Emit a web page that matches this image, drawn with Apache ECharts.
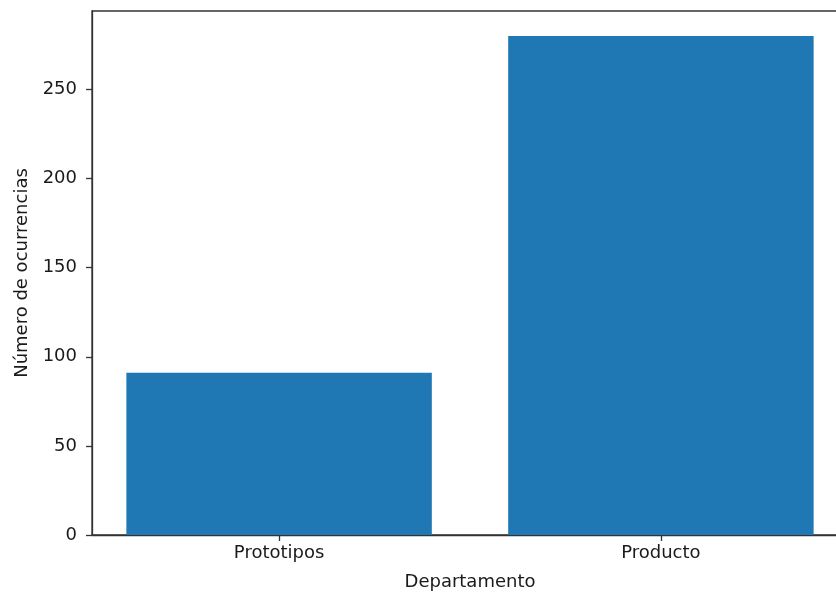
<!DOCTYPE html>
<html>
<head>
<meta charset="utf-8">
<script src="https://cdn.jsdelivr.net/npm/echarts@6/dist/echarts.min.js"></script>
<style>
html,body{margin:0;padding:0;background:#fff;}
#chart{width:836px;height:592px;}
</style>
</head>
<body>
<div id="chart"></div>
<script>
const categories = ['Prototipos', 'Producto'];
const counts = [91, 280];
const yTicks = [0, 50, 100, 150, 200, 250];

const chart = echarts.init(document.getElementById('chart'), null, {renderer: 'canvas'});
const font = 'DejaVu Sans';
const textColor = '#1a1a1a';
const lineColor = '#333';

chart.setOption({
  animation: false,
  grid: {
    left: 92, top: 11, right: -12, bottom: 57,
    containLabel: false,
    outerBoundsMode: 'none',
    show: true, borderColor: lineColor, borderWidth: 1.3, backgroundColor: 'transparent'
  },
  xAxis: {
    type: 'value',
    min: -0.49, max: 1.49,
    name: 'Departamento',
    nameLocation: 'middle',
    nameGap: 38,
    nameTextStyle: {fontFamily: font, fontSize: 18, color: textColor},
    axisLine: {show: true, onZero: false, lineStyle: {color: lineColor, width: 1.3}},
    axisTick: {show: true, length: 6, customValues: categories.map((c, i) => i), lineStyle: {color: lineColor, width: 1.3}},
    axisLabel: {
      customValues: categories.map((c, i) => i),
      formatter: v => categories[Math.round(v)] || '',
      fontFamily: font, fontSize: 18, color: textColor, margin: 9
    },
    splitLine: {show: false}
  },
  yAxis: {
    type: 'value',
    min: 0, max: 294,
    name: 'Número de ocurrencias',
    nameLocation: 'middle',
    nameGap: 58,
    nameTextStyle: {fontFamily: font, fontSize: 18, color: textColor},
    axisLine: {show: true, onZero: false, lineStyle: {color: lineColor, width: 1.3}},
    axisTick: {show: true, length: 6, customValues: yTicks, lineStyle: {color: lineColor, width: 1.3}},
    axisLabel: {customValues: yTicks, fontFamily: font, fontSize: 18, color: textColor, margin: 15},
    splitLine: {show: false}
  },
  series: [{
    type: 'bar',
    barWidth: '80%',
    itemStyle: {color: '#1f77b4'},
    data: counts.map((v, i) => [i, v])
  }]
});
</script>
</body>
</html>
